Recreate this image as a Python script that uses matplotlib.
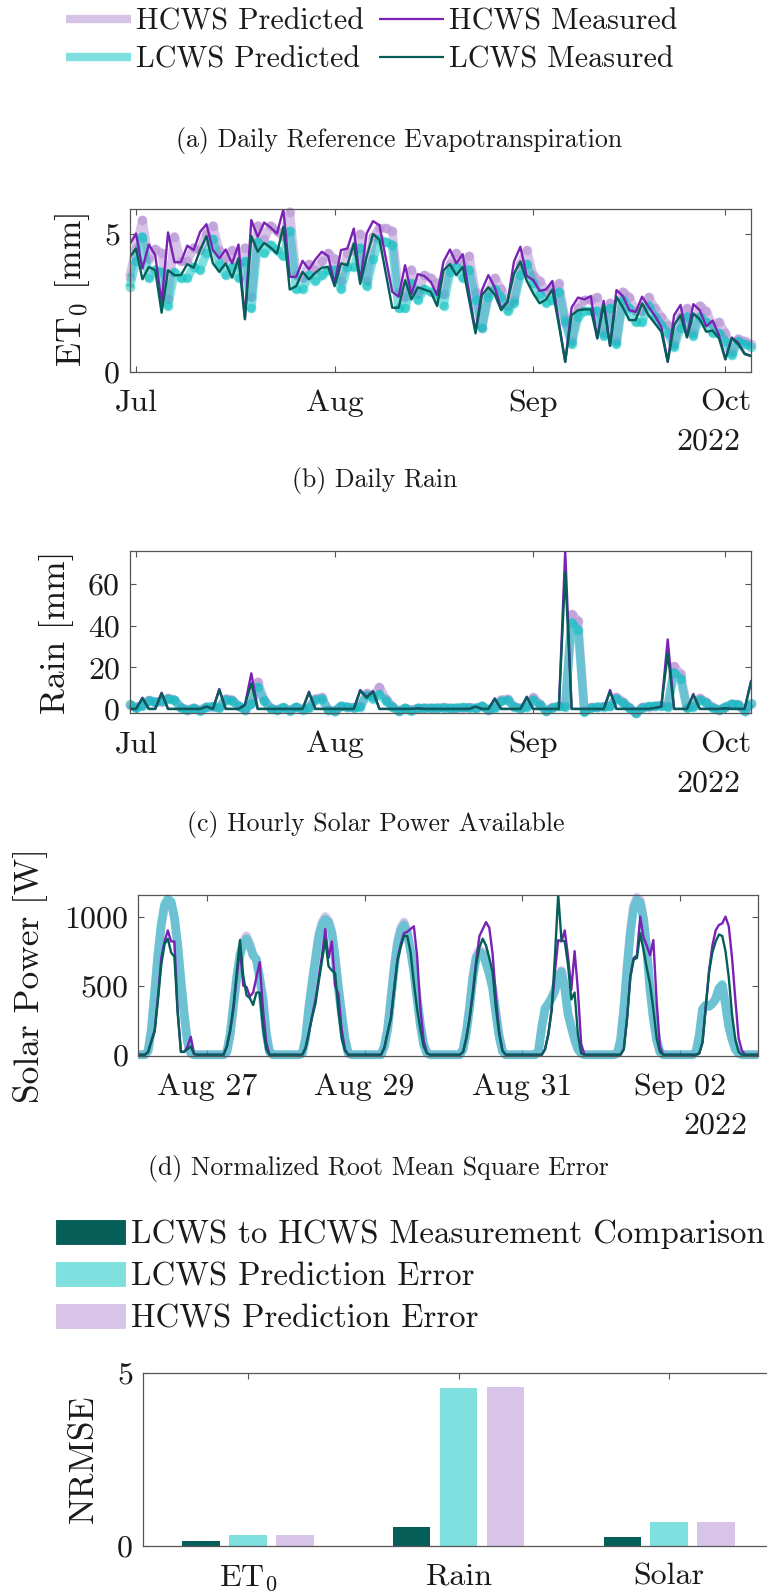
import numpy as np
import matplotlib
matplotlib.use("Agg")
import matplotlib.pyplot as plt
from matplotlib.lines import Line2D
from matplotlib.patches import Patch

plt.rcParams.update({
    "font.family": ["cmr10", "DejaVu Serif"],
    "mathtext.fontset": "cm",
    "axes.unicode_minus": False,
    "axes.formatter.use_mathtext": True,
})

# ---------------- data ----------------
days = np.arange("2022-06-30", "2022-10-06", dtype="datetime64[D]")

et0_hcws_meas = [4.61, 5.01, 3.74, 4.61, 4.23, 2.50, 5.05, 3.97, 3.97, 4.57, 4.41,
                 5.07, 5.35, 4.41, 4.11, 4.43, 3.93, 4.61, 1.93, 5.50, 4.89,
                 5.41, 5.23, 5.01, 5.89, 3.44, 3.44, 4.02, 3.71, 4.07, 4.35,
                 4.19, 3.20, 4.41, 4.47, 5.19, 3.26, 5.01, 5.46, 5.31, 4.10,
                 2.90, 2.72, 3.86, 2.81, 3.54, 3.47, 3.26, 2.78, 3.99, 4.43,
                 3.93, 4.26, 2.84, 1.45, 2.96, 3.50, 3.06, 2.29, 2.54, 3.99,
                 4.53, 3.47, 3.32, 2.93, 2.98, 3.29, 1.82, 0.36, 2.33, 2.69,
                 2.62, 2.74, 1.21, 2.57, 0.94, 2.96, 2.74, 2.23, 2.17, 2.72,
                 2.36, 2.02, 1.63, 0.36, 2.05, 2.42, 1.27, 2.45, 2.23, 1.65,
                 1.85, 1.33, 0.45, 1.24, 1.05, 0.66, 0.57]
et0_lcws_meas = [4.14, 4.47, 3.35, 3.80, 3.68, 2.14, 3.68, 3.50, 3.50, 3.90, 3.77,
                 4.41, 4.92, 3.93, 3.62, 3.93, 3.41, 4.11, 1.90, 4.92, 4.35,
                 4.67, 4.50, 4.29, 5.25, 2.98, 3.10, 3.62, 3.35, 3.59, 3.77,
                 3.80, 3.10, 3.93, 3.86, 4.65, 3.18, 4.17, 4.99, 4.79, 3.56,
                 2.32, 2.32, 3.32, 2.62, 3.06, 2.98, 2.90, 2.38, 3.68, 3.90,
                 3.50, 3.80, 2.60, 1.39, 2.78, 3.06, 2.80, 2.23, 2.54, 3.56,
                 3.99, 3.29, 2.84, 2.48, 2.62, 2.98, 1.70, 0.36, 2.05, 2.23,
                 2.26, 2.26, 1.21, 2.42, 0.94, 2.72, 2.33, 1.87, 1.87, 2.48,
                 2.05, 1.75, 1.45, 0.36, 1.69, 2.05, 1.24, 2.11, 1.90, 1.45,
                 1.49, 1.21, 0.45, 1.21, 1.00, 0.64, 0.57]
et0_hcws_pred = [3.44, 4.50, 5.50, 4.10, 4.45, 4.30, 2.65, 4.90, 4.00, 4.00, 4.50,
                 4.40, 5.00, 5.30, 4.40, 4.10, 4.40, 3.90, 4.50, 2.70, 5.30,
                 4.80, 5.30, 5.10, 4.90, 5.80, 3.50, 3.40, 3.90, 3.70, 4.00,
                 4.30, 4.10, 3.30, 4.30, 4.40, 5.00, 3.30, 4.90, 5.20, 5.20,
                 5.10, 2.90, 2.70, 3.70, 2.80, 3.50, 3.40, 3.20, 2.80, 3.90,
                 4.30, 3.90, 4.20, 2.90, 1.60, 2.90, 3.40, 3.00, 2.40, 2.60,
                 3.90, 4.40, 3.50, 3.30, 2.90, 3.00, 3.20, 1.90, 1.10, 2.30,
                 2.60, 2.60, 2.70, 1.40, 2.50, 1.10, 2.90, 2.70, 2.20, 2.20,
                 2.70, 2.30, 2.00, 1.70, 1.00, 2.00, 2.30, 1.40, 2.40, 2.20,
                 1.70, 1.80, 1.40, 0.70, 1.20, 1.10, 1.00]
et0_lcws_pred = [3.06, 4.00, 4.90, 3.40, 3.70, 3.60, 2.40, 3.60, 3.40, 3.40, 3.80,
                 3.70, 4.30, 4.80, 3.90, 3.50, 3.80, 3.40, 4.00, 2.30, 4.70,
                 4.30, 4.60, 4.40, 4.20, 5.10, 3.00, 3.00, 3.50, 3.30, 3.50,
                 3.70, 3.70, 3.00, 3.80, 3.80, 4.50, 3.10, 4.10, 4.80, 4.70,
                 4.60, 2.30, 2.30, 3.20, 2.60, 3.00, 2.90, 2.80, 2.40, 3.60,
                 3.80, 3.40, 3.70, 2.60, 1.60, 2.70, 3.00, 2.70, 2.20, 2.50,
                 3.50, 3.90, 3.20, 2.80, 2.50, 2.60, 2.90, 1.80, 1.00, 2.00,
                 2.20, 2.20, 2.20, 1.30, 2.30, 1.00, 2.60, 2.30, 1.80, 1.80,
                 2.40, 2.00, 1.70, 1.40, 0.90, 1.60, 2.00, 1.30, 2.00, 1.80,
                 1.40, 1.40, 1.10, 0.60, 1.10, 1.00, 0.90]

rain_hcws_meas = [0, 0, 5.4, 0, 0, 7.8, 0, 0, 0, 0, 0,
                  0, 1.1, 0, 9.6, 0, 0, 0, 1.9, 17.1, 0,
                  0, 0, 0, 0, 0, 0, 0, 8.3, 0, 0,
                  0, 0, 0, 0, 0, 9.1, 5.8, 8.6, 0, 0,
                  0, 0, 0, 0, 0.3, 0, 0, 0, 0, 0,
                  0, 0, 0, 1.1, 0, 0, 5.1, 0, 0, 0,
                  0, 5.9, 0, 0, 0, 0, 0, 75.8, 0, 0,
                  0, 0, 0, 0, 9.1, 0, 0, 0, 0, 0,
                  0, 0.5, 1.1, 33.4, 0, 0, 0, 7.2, 0, 0,
                  0, 0, 0.3, 0, 0, 0, 13.4]
rain_lcws_meas = [0, 0, 5.1, 0, 0, 7.5, 0, 0, 0, 0, 0,
                  0, 1.1, 0, 9.1, 0, 0, 0, 1.9, 12.3, 0,
                  0, 0, 0, 0, 0, 0, 0, 7.8, 0, 0,
                  0, 0, 0, 0, 0, 8.8, 5.4, 8.3, 0, 0,
                  0, 0, 0, 0, 0.3, 0, 0, 0, 0, 0,
                  0, 0, 0, 1.1, 0, 0, 4.8, 0, 0, 0,
                  0, 5.6, 0, 0, 0, 0, 0, 65.9, 0, 0,
                  0, 0, 0, 0, 8.3, 0, 0, 0, 0, 0,
                  0, 0.5, 1.1, 26.7, 0, 0, 0, 6.7, 0, 0,
                  0, 0, 0.3, 0, 0, 0, 12.8]
rain_hcws_pred = [2.0, 0.8, 1.8, 4.2, 3.2, 3.5, 5.2, 4.5, 0.8, -0.3, 0.5,
                  -0.5, 1.0, 1.0, 0.8, 5.0, 4.5, 1.2, -0.3, 3.0, 13.0,
                  4.5, 0.5, -0.3, 0.5, -0.5, 0.8, -0.2, 0.8, 5.0, 5.5,
                  -0.3, -1.0, 1.2, 0.8, 0.8, 1.2, 7.5, 6.0, 10.5, 5.0,
                  1.2, -1.0, 0.3, -0.5, 0.5, 0.3, 0.5, 0.3, 0.8, 0.5,
                  0.3, 0.5, 0.8, 0.5, 1.2, -0.3, 0.8, 4.5, 4.8, 1.2,
                  0.5, 1.2, 5.5, 2.5, -0.8, 0.8, 1.2, 1.5, 45.5, 42.5,
                  -1.2, 0.8, 0.8, 1.2, 1.5, 5.8, 3.5, 0.8, -1.8, 0.8,
                  1.0, 1.2, 1.8, 1.2, 20.5, 17.0, 0.8, 1.2, 5.2, 3.5,
                  0.8, -0.3, 0.8, 2.2, 2.2, -0.8, 2.5]
rain_lcws_pred = [2.2, 0.5, 1.5, 4.0, 3.5, 3.8, 4.8, 4.3, 0.5, -0.5, 0.3,
                  -0.8, 0.8, 1.2, 0.5, 4.5, 4.0, 1.5, -0.5, 2.5, 10.5,
                  4.0, 0.2, -0.5, 0.8, -0.8, 1.0, -0.3, 0.5, 4.5, 4.8,
                  -0.5, -1.2, 1.5, 1.0, 0.5, 1.0, 6.5, 5.0, 7.0, 4.0,
                  1.0, -1.2, 0.5, -0.8, 0.3, 0.5, 0.3, 0.5, 0.5, 0.3,
                  0.5, 0.8, 0.5, 0.3, 1.5, -0.5, 0.5, 3.8, 4.2, 1.0,
                  0.2, 1.0, 4.5, 2.0, -1.0, 0.5, 1.5, 1.0, 41.5, 38.0,
                  -1.5, 0.5, 1.0, 1.0, 1.2, 5.0, 3.0, 0.5, -2.1, 0.5,
                  1.2, 1.5, 1.5, 1.0, 17.5, 14.5, 0.5, 1.0, 4.5, 3.0,
                  0.5, -0.5, 1.0, 2.5, 2.0, -1.0, 3.0]

# hourly solar power: night hours are zero, daytime values listed for 05:00..20:00
solar_hours = np.arange("2022-08-26T03", "2022-09-03T01", dtype="datetime64[h]")
solar_days = np.arange("2022-08-26", "2022-09-03", dtype="datetime64[D]")
solar_day_hours = np.arange(5, 21)

solar_hcws_pred_day = [
    [0, 30, 180, 450, 720, 930, 1070, 1120, 1100, 990, 790, 530, 290, 90, 10, 0],
    [0, 20, 140, 350, 560, 730, 820, 860, 800, 720, 690, 560, 410, 160, 20, 0],
    [10, 120, 350, 530, 700, 870, 960, 1000, 970, 890, 710, 490, 300, 120, 10, 0],
    [0, 60, 190, 410, 640, 820, 920, 960, 900, 760, 610, 410, 220, 80, 10, 0],
    [0, 40, 170, 350, 570, 710, 760, 740, 670, 590, 490, 310, 140, 30, 0, 0],
    [30, 200, 330, 370, 410, 470, 570, 610, 490, 300, 200, 110, 40, 10, 0, 0],
    [10, 110, 340, 640, 900, 1080, 1140, 1120, 990, 770, 480, 270, 110, 20, 0, 0],
    [20, 140, 330, 360, 350, 370, 410, 480, 500, 370, 210, 110, 40, 10, 0, 0],
]
solar_lcws_pred_day = [
    [0, 30, 190, 460, 730, 950, 1090, 1130, 1110, 1000, 800, 540, 290, 90, 10, 0],
    [0, 20, 150, 360, 560, 720, 800, 840, 790, 720, 690, 550, 400, 150, 20, 0],
    [10, 120, 340, 520, 690, 850, 940, 980, 960, 880, 700, 480, 290, 110, 10, 0],
    [0, 60, 180, 400, 620, 800, 900, 940, 880, 750, 600, 400, 210, 70, 10, 0],
    [0, 40, 160, 340, 560, 700, 740, 730, 660, 580, 480, 300, 130, 25, 0, 0],
    [30, 200, 340, 370, 410, 460, 560, 600, 480, 290, 200, 110, 40, 10, 0, 0],
    [10, 100, 320, 620, 880, 1060, 1120, 1100, 980, 760, 470, 260, 110, 20, 0, 0],
    [20, 140, 330, 360, 350, 370, 400, 480, 510, 360, 200, 110, 40, 10, 0, 0],
]
solar_hcws_meas_day = [
    [0, 20, 100, 180, 420, 700, 820, 900, 820, 820, 320, 20, 20, 60, 130, 5],
    [0, 60, 170, 330, 560, 770, 500, 490, 420, 450, 560, 670, 330, 90, 0, 0],
    [0, 50, 160, 280, 400, 560, 720, 910, 700, 820, 500, 440, 180, 40, 0, 0],
    [0, 50, 160, 270, 480, 690, 800, 880, 890, 910, 930, 710, 330, 100, 10, 0],
    [0, 20, 120, 270, 460, 680, 860, 910, 960, 920, 730, 420, 170, 30, 0, 0],
    [0, 0, 40, 150, 330, 600, 830, 820, 900, 710, 470, 750, 470, 80, 0, 0],
    [0, 0, 40, 270, 570, 700, 720, 1000, 850, 790, 720, 830, 390, 60, 0, 0],
    [0, 10, 90, 350, 610, 790, 900, 940, 950, 1000, 930, 700, 400, 120, 30, 0],
]
solar_lcws_meas_day = [
    [0, 20, 100, 170, 400, 650, 800, 840, 740, 710, 300, 22, 22, 40, 60, 5],
    [0, 60, 180, 350, 600, 830, 570, 430, 410, 360, 450, 450, 200, 40, 0, 0],
    [0, 50, 160, 275, 370, 530, 680, 830, 640, 610, 590, 320, 120, 30, 0, 0],
    [0, 50, 160, 260, 470, 680, 780, 860, 860, 740, 520, 330, 180, 60, 10, 0],
    [0, 20, 120, 260, 440, 650, 780, 840, 790, 700, 600, 340, 150, 30, 0, 0],
    [0, 0, 40, 150, 320, 710, 1160, 830, 820, 650, 400, 450, 150, 10, 0, 0],
    [0, 0, 40, 260, 560, 690, 700, 880, 760, 630, 510, 330, 120, 20, 0, 0],
    [0, 10, 90, 350, 600, 740, 820, 870, 860, 750, 560, 290, 110, 20, 0, 0],
]

nrmse_categories = ["ET$_0$", "Rain", "Solar"]
nrmse_meas_comparison = [0.135, 0.54, 0.24]
nrmse_lcws_pred = [0.31, 4.56, 0.69]
nrmse_hcws_pred = [0.30, 4.60, 0.68]

month_ticks = np.array(["2022-07-01", "2022-08-01", "2022-09-01", "2022-10-01"],
                       dtype="datetime64[D]")
month_labels = ["Jul", "Aug", "Sep", "Oct"]
solar_ticks = np.array(["2022-08-27", "2022-08-29", "2022-08-31", "2022-09-02"],
                       dtype="datetime64[D]")
solar_tick_labels = ["Aug 27", "Aug 29", "Aug 31", "Sep 02"]


def hourly_series(day_tables):
    series = np.zeros(len(solar_hours))
    for day, vals in zip(solar_days, day_tables):
        for h, v in zip(solar_day_hours, vals):
            t = day.astype("datetime64[h]") + np.timedelta64(int(h), "h")
            idx = int((t - solar_hours[0]) / np.timedelta64(1, "h"))
            if 0 <= idx < len(series):
                series[idx] = v
    return series


# ---------------- style ----------------
C_HP = "#B189D1"
C_LP = "#02C1C1"
C_HM = "#7A22B4"
C_LM = "#065E59"
BAR_COLORS = ["#065E59", "#80E0E0", "#D8C4E8"]
AX_COLOR = "#555555"
TXT = "#1a1a1a"
TICK_FS = 23
LABEL_FS = 25.5
TITLE_FS = 18.6

W, H = 767, 1596
fig = plt.figure(figsize=(W / 100, H / 100), dpi=100)


def add_axes_px(left, top, right, bottom):
    return fig.add_axes([left / W, 1 - bottom / H, (right - left) / W, (bottom - top) / H])


def style_axes(ax, label, label_x_px, left_px, right_px):
    for sp in ax.spines.values():
        sp.set_color(AX_COLOR)
        sp.set_linewidth(0.9)
    ax.tick_params(axis="both", direction="in", length=4.3, width=0.8, colors=AX_COLOR,
                   labelcolor=TXT, labelsize=TICK_FS, top=True, right=True)
    ax.tick_params(axis="x", pad=12.5)
    ax.tick_params(axis="y", pad=7)
    ax.set_ylabel(label, fontsize=LABEL_FS, color=TXT, va="center")
    ax.yaxis.set_label_coords((label_x_px - left_px) / (right_px - left_px), 0.5)


def plot_four(ax, x, hp, lp, hm, lm, marker=True):
    mk = dict(marker="o", markersize=7, markeredgewidth=0) if marker else {}
    ax.plot(x, hp, color=C_HP, alpha=0.5, lw=6.3, solid_joinstyle="round",
            solid_capstyle="butt", clip_on=False, **mk)
    ax.plot(x, lp, color=C_LP, alpha=0.5, lw=6.3, solid_joinstyle="round",
            solid_capstyle="butt", clip_on=False, **mk)
    ax.plot(x, hm, color=C_HM, lw=1.7)
    ax.plot(x, lm, color=C_LM, lw=1.7)


def year_label(ax):
    ax.annotate("2022", xy=(1, 0), xycoords="axes fraction", xytext=(-11, -70),
                textcoords="offset pixels", ha="right", va="center",
                fontsize=TICK_FS, color=TXT)


# (a) ET0
axA = add_axes_px(129.6, 209, 751, 371.7)
plot_four(axA, days, et0_hcws_pred, et0_lcws_pred, et0_hcws_meas, et0_lcws_meas)
axA.set_xlim(days[0], days[-1])
axA.set_ylim(0, 5.9)
axA.set_yticks([0, 5])
axA.set_yticklabels(["0", "5"])
axA.set_xticks(month_ticks)
axA.set_xticklabels(month_labels)
style_axes(axA, "ET$_0$ [mm]", 73, 129.6, 751)
year_label(axA)

# (b) rain
axB = add_axes_px(129.6, 551.3, 751, 713.3)
plot_four(axB, days, rain_hcws_pred, rain_lcws_pred, rain_hcws_meas, rain_lcws_meas)
axB.set_xlim(days[0], days[-1])
axB.set_ylim(-2.1, 75.8)
axB.set_yticks([0, 20, 40, 60])
axB.set_yticklabels(["0", "20", "40", "60"])
axB.set_xticks(month_ticks)
axB.set_xticklabels(month_labels)
style_axes(axB, "Rain [mm]", 56, 129.6, 751)
year_label(axB)

# (c) solar
axC = add_axes_px(138.3, 894.5, 758.3, 1055.7)
plot_four(axC, solar_hours,
          hourly_series(solar_hcws_pred_day), hourly_series(solar_lcws_pred_day),
          hourly_series(solar_hcws_meas_day), hourly_series(solar_lcws_meas_day),
          marker=False)
axC.set_xlim(solar_hours[0], solar_hours[-1])
axC.set_ylim(-7, 1160)
axC.set_yticks([0, 500, 1000])
axC.set_yticklabels(["0", "500", "1000"])
axC.set_xticks(solar_ticks)
axC.set_xticklabels(solar_tick_labels)
style_axes(axC, "Solar Power [W]", 30, 138.3, 758.3)
year_label(axC)

# (d) NRMSE bars
axD = add_axes_px(142.9, 1372.7, 774.5, 1545.7)
pos = np.arange(1, len(nrmse_categories) + 1)
offset, width = 0.223, 0.178
for k, (vals, col) in enumerate(zip([nrmse_meas_comparison, nrmse_lcws_pred, nrmse_hcws_pred],
                                    BAR_COLORS)):
    axD.bar(pos + (k - 1) * offset, vals, width=width, color=col, edgecolor="none")
axD.set_axisbelow(True)
axD.set_xlim(0.5, 3.5)
axD.set_ylim(0, 5)
axD.set_yticks([0, 5])
axD.set_yticklabels(["0", "5"])
axD.set_xticks(pos)
axD.set_xticklabels(nrmse_categories)
style_axes(axD, "NRMSE", 84, 142.9, 774.5)

# panel titles
for txt, xc, yc in [("(a) Daily Reference Evapotranspiration", 399, 140),
                    ("(b) Daily Rain", 375, 480),
                    ("(c) Hourly Solar Power Available", 376, 825),
                    ("(d) Normalized Root Mean Square Error", 378, 1168)]:
    fig.text(xc / W, 1 - yc / H, txt, ha="center", va="center", fontsize=TITLE_FS, color=TXT)

# line legend
line_handles = [
    Line2D([], [], color=C_HP, alpha=0.5, lw=6, solid_capstyle="butt"),
    Line2D([], [], color=C_LP, alpha=0.5, lw=6, solid_capstyle="butt"),
    Line2D([], [], color=C_HM, lw=1.6, solid_capstyle="butt"),
    Line2D([], [], color=C_LM, lw=1.6, solid_capstyle="butt"),
]
fig.legend(line_handles, ["HCWS Predicted", "LCWS Predicted", "HCWS Measured", "LCWS Measured"],
           ncol=2, loc="upper left", bbox_to_anchor=(66 / W, 1 - 8 / H), frameon=False,
           fontsize=21.7, handlelength=2.16, handletextpad=0.17, columnspacing=0.48,
           labelspacing=0.31, borderpad=0, borderaxespad=0, labelcolor=TXT)

# bar legend
bar_handles = [Patch(facecolor=c, edgecolor="white", lw=0.8) for c in BAR_COLORS]
fig.legend(bar_handles, ["LCWS to HCWS Measurement Comparison", "LCWS Prediction Error",
                         "HCWS Prediction Error"],
           loc="upper left", bbox_to_anchor=(55 / W, 1 - 1218.5 / H), frameon=False,
           fontsize=23.6, handlelength=2.16, handleheight=0.88, handletextpad=0.15,
           labelspacing=0.345, borderpad=0, borderaxespad=0, labelcolor=TXT)

fig.savefig("out.png", dpi=100)
